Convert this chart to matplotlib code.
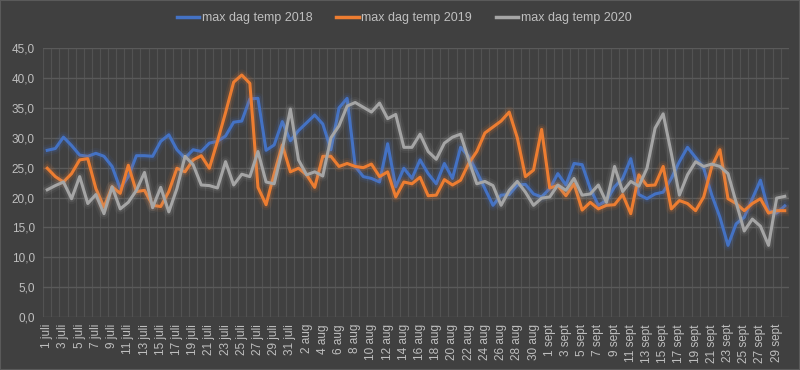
import numpy as np
import matplotlib
matplotlib.use("Agg")
import matplotlib.pyplot as plt
import matplotlib.patheffects as pe

# daily max temperature, 1 juli .. 30 sept
t2018 = [27.9, 28.2, 30.1, 28.7, 27.1, 26.9, 27.4, 26.9, 25.2, 21.5,
         23.5, 27.0, 27.0, 26.9, 29.4, 30.5, 28.0, 26.6, 28.0, 27.7,
         29.1, 29.4, 30.3, 32.6, 32.8, 36.5, 36.6, 27.9, 28.8, 32.7,
         29.5, 31.2, 32.5, 33.8, 32.3, 28.0, 35.0, 36.6, 25.2, 23.5,
         23.2, 22.6, 29.0, 21.8, 24.9, 23.2, 26.3, 24.0, 22.3, 25.7,
         23.2, 28.4, 26.9, 24.3, 21.5, 18.7, 20.4, 20.5, 22.1, 22.2,
         20.6, 20.1, 21.5, 24.0, 22.1, 25.7, 25.5, 21.5, 18.7, 19.5,
         21.8, 23.2, 26.5, 20.5, 19.8, 20.6, 20.9, 23.2, 26.0, 28.4,
         26.7, 24.9, 20.4, 16.7, 12.0, 15.6, 16.7, 19.8, 22.9, 17.8,
         17.4, 18.6]
t2019 = [24.9, 23.5, 22.6, 24.0, 26.3, 26.5, 21.5, 18.4, 21.8, 20.7,
         25.4, 21.0, 21.2, 18.7, 18.5, 21.0, 24.9, 24.3, 26.3, 27.0,
         24.9, 29.4, 34.2, 39.3, 40.5, 39.1, 21.7, 18.8, 24.0, 28.8,
         24.3, 24.9, 23.8, 21.7, 26.9, 26.9, 25.2, 25.7, 25.2, 25.0,
         25.6, 23.5, 24.3, 20.1, 22.6, 22.3, 23.4, 20.3, 20.4, 23.0,
         22.1, 22.9, 25.7, 27.7, 30.8, 31.8, 32.8, 34.3, 30.0, 23.5,
         24.6, 31.4, 21.6, 22.0, 20.3, 22.3, 17.9, 19.2, 18.1, 18.7,
         18.8, 20.5, 17.3, 23.8, 22.0, 22.1, 25.2, 18.1, 19.5, 19.0,
         17.8, 20.1, 25.2, 28.0, 19.8, 19.0, 17.8, 19.0, 19.8, 17.4,
         17.8, 17.8]
t2020 = [21.3, 22.0, 22.6, 19.8, 23.5, 19.0, 20.5, 17.3, 21.8, 18.1,
         19.2, 21.2, 24.2, 18.3, 21.7, 17.6, 21.5, 26.9, 25.5, 22.1,
         22.0, 21.6, 26.0, 22.1, 23.9, 23.5, 27.7, 22.6, 22.3, 28.0,
         34.8, 26.3, 23.8, 24.3, 23.6, 30.0, 32.0, 35.3, 35.9, 35.1,
         34.3, 35.8, 33.2, 33.9, 28.4, 28.4, 30.6, 27.7, 26.4, 29.1,
         30.1, 30.6, 26.3, 22.3, 22.7, 22.0, 18.7, 21.2, 22.7, 20.9,
         18.7, 19.9, 20.1, 22.1, 21.2, 23.2, 20.4, 20.6, 22.1, 19.2,
         25.2, 21.0, 22.7, 21.9, 24.9, 31.6, 34.0, 27.4, 20.4, 23.8,
         26.0, 25.2, 25.6, 25.2, 24.0, 19.2, 14.4, 16.4, 15.2, 12.0,
         19.9, 20.2]

months = [("juli", 31), ("aug", 31), ("sept", 30)]
days = [f"{d} {m}" for m, n in months for d in range(1, n + 1)]

series = [("max dag temp 2018", t2018, "#4472C4"),
          ("max dag temp 2019", t2019, "#ED7D31"),
          ("max dag temp 2020", t2020, "#A5A5A5")]

bg = "#404040"
grid = "#5a5a5a"
txt = "#bfbfbf"
plt.rcParams["font.family"] = ["Liberation Sans", "DejaVu Sans"]

fig = plt.figure(figsize=(8, 3.7), dpi=100, facecolor=bg)
fig.patches.append(plt.Rectangle((0, 0), 1, 1, transform=fig.transFigure,
                                 fill=False, edgecolor="#5a5a5a", lw=1.5))
ax = fig.add_axes([0.054, 0.143, 0.932, 0.727], facecolor=bg)

x = np.arange(len(days))
for label, vals, col in series:
    glow = [pe.Stroke(linewidth=8, foreground=col, alpha=0.08, joinstyle="round"),
            pe.Stroke(linewidth=5, foreground=col, alpha=0.15, joinstyle="round"),
            pe.Normal()]
    ax.plot(x, vals, color=col, lw=2.2, label=label,
            solid_joinstyle="round", path_effects=glow)

ax.set_ylim(0, 45)
ax.set_xlim(-0.5, len(days) - 0.5)
ax.set_yticks(np.arange(0, 46, 5))
ax.set_yticklabels([f"{v:.1f}".replace(".", ",") for v in np.arange(0, 46, 5)])
ax.set_xticks(x[::2])
ax.set_xticklabels(days[::2], rotation=90)
ax.set_xticks(np.arange(-0.5, len(days), 1), minor=True)
ax.tick_params(axis="both", which="both", length=0, colors=txt, labelsize=8.5)
ax.tick_params(axis="y", pad=6)
ax.tick_params(axis="x", pad=5)
ax.grid(axis="y", which="major", color=grid, lw=1)
ax.grid(axis="x", which="minor", color=grid, lw=0.8, alpha=0.7)
ax.set_axisbelow(True)
for s in ax.spines.values():
    s.set_visible(False)

leg = fig.legend(loc="center", bbox_to_anchor=(0.505, 0.95), ncol=3,
                 frameon=False, fontsize=9, handlelength=1.8,
                 columnspacing=1.9, handletextpad=0.2, labelcolor=txt)
for h in leg.get_lines():
    h.set_path_effects([])
    h.set_linewidth(2.5)

fig.savefig("out.png", dpi=100, facecolor=bg)
